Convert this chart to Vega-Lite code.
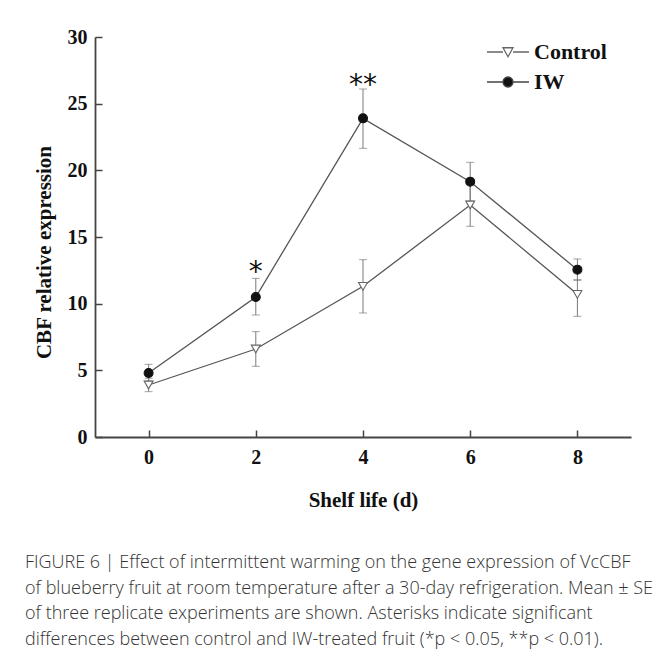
{
  "$schema": "https://vega.github.io/schema/vega-lite/v6.json",
  "autosize": {"type": "none"},
  "width": 536,
  "height": 400,
  "padding": {"left": 95, "top": 37, "right": 26, "bottom": 223},
  "background": "white",
  "config": {"view": {"stroke": null}, "font": "Liberation Serif"},
  "datasets": {
    "expr": [
      {"day": 0, "series": "Control", "mean": 3.9, "lo": 3.4, "hi": 4.4},
      {"day": 2, "series": "Control", "mean": 6.6, "lo": 5.3, "hi": 7.9},
      {"day": 4, "series": "Control", "mean": 11.3, "lo": 9.3, "hi": 13.3},
      {"day": 6, "series": "Control", "mean": 17.4, "lo": 15.8, "hi": 19.0},
      {"day": 8, "series": "Control", "mean": 10.7, "lo": 9.05, "hi": 11.8},
      {"day": 0, "series": "IW", "mean": 4.8, "lo": 4.2, "hi": 5.45},
      {"day": 2, "series": "IW", "mean": 10.5, "lo": 9.15, "hi": 11.9},
      {"day": 4, "series": "IW", "mean": 23.9, "lo": 21.65, "hi": 26.1},
      {"day": 6, "series": "IW", "mean": 19.15, "lo": 17.7, "hi": 20.6},
      {"day": 8, "series": "IW", "mean": 12.55, "lo": 11.75, "hi": 13.35}
    ],
    "sig": [
      {"day": 2, "y": 12.9, "label": "*"},
      {"day": 4, "y": 26.9, "label": "**"}
    ]
  },
  "title": {
    "text": [
      "FIGURE 6 | Effect of intermittent warming on the gene expression of VcCBF",
      "of blueberry fruit at room temperature after a 30-day refrigeration. Mean ± SE",
      "of three replicate experiments are shown. Asterisks indicate significant",
      "differences between control and IW-treated fruit (*p < 0.05, **p < 0.01)."
    ],
    "orient": "bottom",
    "anchor": "start",
    "frame": "bounds",
    "font": "Open Sans",
    "fontSize": 18,
    "fontWeight": 300,
    "color": "#333333",
    "lineHeight": 25.7,
    "offset": 44,
    "dx": -8
  },
  "layer": [
    {
      "data": {"name": "expr"},
      "mark": {"type": "line", "color": "#555555", "strokeWidth": 1.3},
      "encoding": {
        "x": {
          "field": "day", "type": "quantitative",
          "scale": {"domain": [-1, 9], "nice": false, "zero": false},
          "axis": {
            "title": "Shelf  life (d)",
            "values": [0, 2, 4, 6, 8],
            "format": "d",
            "grid": false,
            "labelFont": "Liberation Serif", "labelFontWeight": "bold", "labelFontSize": 20, "labelColor": "#111111",
            "labelPadding": 17, "labelFlush": false, "labelOverlap": false,
            "domainColor": "#444444", "domainWidth": 1.8,
            "tickColor": "#444444", "tickWidth": 1.5, "tickSize": -7,
            "titleFont": "Liberation Serif", "titleFontWeight": "bold", "titleFontSize": 21, "titleColor": "#111111",
            "titlePadding": 22
          }
        },
        "y": {
          "field": "mean", "type": "quantitative",
          "scale": {"domain": [0, 30], "nice": false},
          "axis": {
            "title": "CBF relative expression",
            "values": [0, 5, 10, 15, 20, 25, 30],
            "grid": false,
            "labelFont": "Liberation Serif", "labelFontWeight": "bold", "labelFontSize": 20, "labelColor": "#111111",
            "labelPadding": 15, "labelFlush": false, "labelOverlap": false,
            "domainColor": "#444444", "domainWidth": 1.8,
            "tickColor": "#444444", "tickWidth": 1.5, "tickSize": -7,
            "titleFont": "Liberation Serif", "titleFontWeight": "bold", "titleFontSize": 21, "titleColor": "#111111",
            "titlePadding": 13, "titleY": 215
          }
        },
        "detail": {"field": "series"}
      }
    },
    {
      "data": {"name": "expr"},
      "mark": {"type": "rule", "color": "#7a7a7a", "strokeWidth": 1},
      "encoding": {
        "x": {"field": "day", "type": "quantitative", "title": "Shelf  life (d)"},
        "y": {"field": "lo", "type": "quantitative", "title": "CBF relative expression"},
        "y2": {"field": "hi"}
      }
    },
    {
      "data": {"name": "expr"},
      "mark": {"type": "tick", "color": "#7a7a7a", "orient": "horizontal", "size": 8, "thickness": 1},
      "encoding": {
        "x": {"field": "day", "type": "quantitative", "title": "Shelf  life (d)"},
        "y": {"field": "lo", "type": "quantitative", "title": "CBF relative expression"}
      }
    },
    {
      "data": {"name": "expr"},
      "mark": {"type": "tick", "color": "#7a7a7a", "orient": "horizontal", "size": 8, "thickness": 1},
      "encoding": {
        "x": {"field": "day", "type": "quantitative", "title": "Shelf  life (d)"},
        "y": {"field": "hi", "type": "quantitative", "title": "CBF relative expression"}
      }
    },
    {
      "data": {"name": "expr"},
      "mark": {"type": "point", "filled": true, "size": 80, "strokeWidth": 1.1, "opacity": 1},
      "encoding": {
        "x": {"field": "day", "type": "quantitative", "title": "Shelf  life (d)"},
        "y": {"field": "mean", "type": "quantitative", "title": "CBF relative expression"},
        "shape": {"condition": {"test": "datum.series === 'IW'", "value": "circle"}, "value": "triangle-down"},
        "fill": {"condition": {"test": "datum.series === 'IW'", "value": "#111111"}, "value": "#ffffff"},
        "stroke": {"condition": {"test": "datum.series === 'IW'", "value": "#111111"}, "value": "#666666"}
      }
    },
    {
      "data": {"name": "expr"},
      "mark": {"type": "point", "filled": true, "size": 100, "opacity": 0, "strokeWidth": 1.3},
      "encoding": {
        "x": {"field": "day", "type": "quantitative", "title": "Shelf  life (d)"},
        "y": {"field": "mean", "type": "quantitative", "title": "CBF relative expression"},
        "shape": {
          "field": "series", "type": "nominal",
          "scale": {"domain": ["Control", "IW"], "range": ["M-4.2,0H-1M1,0H4.2M-1,-0.85L1,-0.85L0,0.95Z", "M-4.2,0H-1M1,0H4.2M-1,0A1,1 0 1,1 1,0A1,1 0 1,1 -1,0Z"]},
          "legend": {
            "title": null,
            "orient": "none",
            "legendX": 402,
            "legendY": 4,
            "padding": 0,
            "symbolSize": 100,
            "labelOffset": 15,
            "rowPadding": 8,
            "symbolOpacity": 1,
            "symbolStrokeWidth": 1.3,
            "labelFont": "Liberation Serif", "labelFontWeight": "bold", "labelFontSize": 22, "labelColor": "#111111"
          }
        },
        "fill": {
          "field": "series", "type": "nominal",
          "scale": {"domain": ["Control", "IW"], "range": ["#ffffff", "#111111"]},
          "legend": {
            "title": null,
            "orient": "none",
            "legendX": 402,
            "legendY": 4,
            "padding": 0,
            "symbolSize": 100,
            "labelOffset": 15,
            "rowPadding": 8,
            "symbolOpacity": 1,
            "symbolStrokeWidth": 1.3,
            "labelFont": "Liberation Serif", "labelFontWeight": "bold", "labelFontSize": 22, "labelColor": "#111111"
          }
        },
        "stroke": {
          "field": "series", "type": "nominal",
          "scale": {"domain": ["Control", "IW"], "range": ["#666666", "#444444"]},
          "legend": {
            "title": null,
            "orient": "none",
            "legendX": 402,
            "legendY": 4,
            "padding": 0,
            "symbolSize": 100,
            "labelOffset": 15,
            "rowPadding": 8,
            "symbolOpacity": 1,
            "symbolStrokeWidth": 1.3,
            "labelFont": "Liberation Serif", "labelFontWeight": "bold", "labelFontSize": 22, "labelColor": "#111111"
          }
        }
      }
    },
    {
      "data": {"name": "sig"},
      "mark": {"type": "text", "font": "DejaVu Sans", "fontSize": 28, "color": "#111111", "baseline": "alphabetic", "align": "center", "dy": 16},
      "encoding": {
        "x": {"field": "day", "type": "quantitative", "title": "Shelf  life (d)"},
        "y": {"field": "y", "type": "quantitative", "title": "CBF relative expression"},
        "text": {"field": "label"}
      }
    }
  ]
}
